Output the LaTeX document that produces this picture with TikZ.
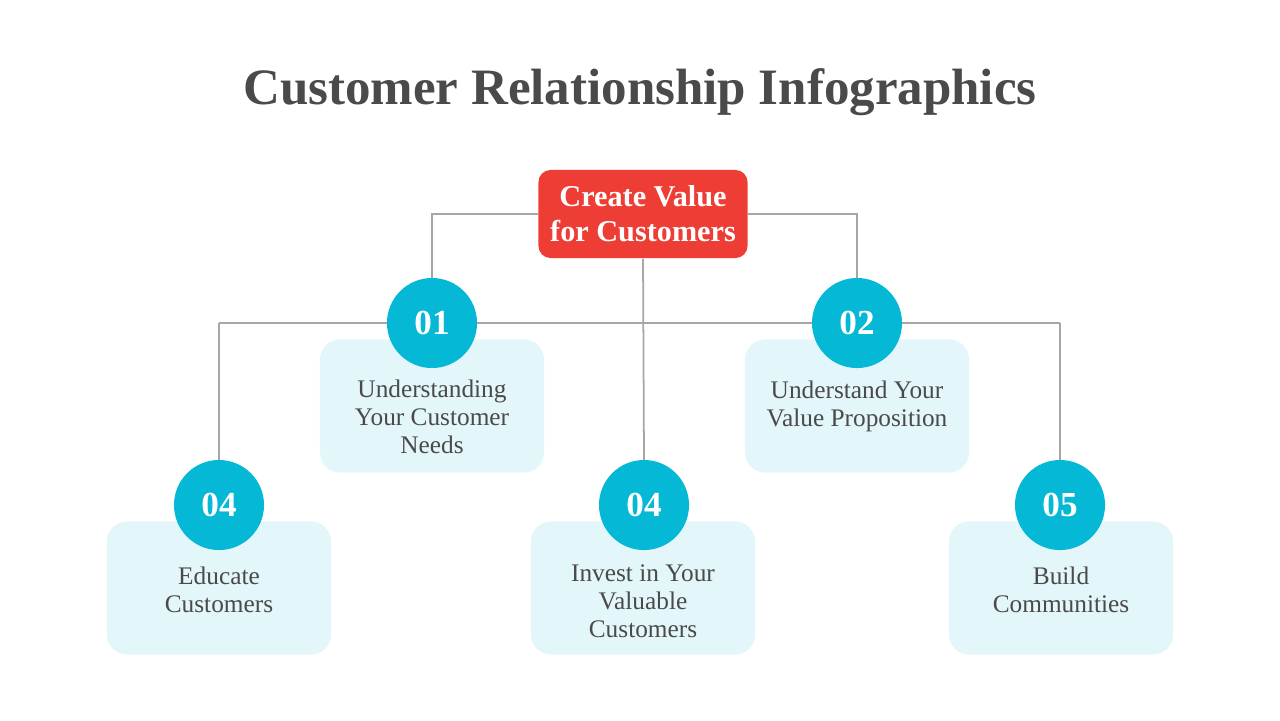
\documentclass[tikz,border=0pt]{standalone}
\usepackage{fontspec}
\setmainfont{Liberation Serif}
\definecolor{redbox}{HTML}{EE3D35}
\definecolor{cyancirc}{HTML}{04B8D6}
\definecolor{lightbox}{HTML}{E3F6FA}
\definecolor{linegray}{HTML}{A6A6A6}
\definecolor{textgray}{HTML}{4A4A4A}
\tikzset{
  card/.style={fill=lightbox, rounded corners=0.2cm, minimum width=2.24cm, minimum height=1.33cm},
  badge/.style={circle, fill=cyancirc, minimum size=0.9cm, inner sep=0pt, text=white, font=\bfseries\fontsize{10}{10}\selectfont},
  cardtext/.style={text=textgray, align=center, font=\fontsize{7.2}{8}\selectfont},
  link/.style={draw=linegray, line width=0.5pt}
}
\begin{document}
\begin{tikzpicture}[x=0.01cm, y=-0.01cm]
  \useasboundingbox (0,0) rectangle (1280,720);
  \node[text=textgray, font=\bfseries\fontsize{14.5}{16}\selectfont] (title) at (640,92) {Customer Relationship Infographics};

  % cards
  \node[card] (c1) at (432,406) {};
  \node[card] (c2) at (857,406) {};
  \node[card] (c3) at (219,588) {};
  \node[card] (c4) at (643,588) {};
  \node[card] (c5) at (1061,588) {};

  % root
  \node[fill=redbox, rounded corners=0.12cm, minimum width=2.02cm, minimum height=0.88cm, text=white, align=center,
        font=\bfseries\fontsize{8.6}{10}\selectfont] (root) at (643,214) {Create Value\\for Customers};

  % connectors
  \coordinate (hl) at (219,323);
  \coordinate (hr) at (1060,323);
  \coordinate (hc) at (644,323);
  \draw[link] (root.west) -| (432,278);
  \draw[link] (root.east) -| (857,278);
  \draw[link] (hl) -- (hr);
  \draw[link] (root.south) -- (644,460);
  \draw[link] (hl) -- (219,460);
  \draw[link] (hr) -- (1060,460);

  % badges
  \node[badge] (b1) at (432,323) {01};
  \node[badge] (b2) at (857,323) {02};
  \node[badge] (b3) at (219,505) {04};
  \node[badge] (b4) at (644,505) {04};
  \node[badge] (b5) at (1060,505) {05};

  % texts
  \node[cardtext] (t1) at (432,417) {Understanding\\Your Customer\\Needs};
  \node[cardtext] (t2) at (857,406) {Understand Your\\Value Proposition};
  \node[cardtext] (t3) at (219,590) {Educate\\Customers};
  \node[cardtext] (t4) at (643,601) {Invest in Your\\Valuable\\Customers};
  \node[cardtext] (t5) at (1061,590) {Build\\Communities};
\end{tikzpicture}
\end{document}
